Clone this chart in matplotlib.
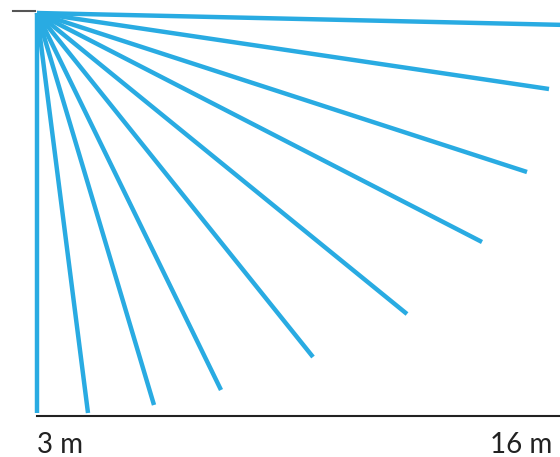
import matplotlib.pyplot as plt

# 探测射线的端点（原点在左上角）
origin_x = 0
origin_y = 400
end_x = [0, 51, 117, 184, 276, 370, 445, 490, 512, 530]
end_y = [0, 0, 8, 23, 56, 99, 171, 241, 324, 388]
left_label = '3 m'
right_label = '16 m'

fig = plt.figure(figsize=(5.6, 4.57), dpi=100)
ax = fig.add_axes([0, 0, 1, 1])
ax.set_xlim(-37, 523)
ax.set_ylim(-44, 413)
ax.axis('off')

for x, y in zip(end_x, end_y):
    ax.plot([origin_x, x], [origin_y, y], color='#29abe2', lw=3.2,
            solid_capstyle='butt')

# 底部横线和左上角短线
ax.plot([0, 523], [-3, -3], color='#222222', lw=1.5)
ax.plot([-24, -2], [402, 402], color='#555555', lw=1.5)

ax.text(0, -40, left_label, fontsize=20, family='Lato',
        color='#222222', ha='left', va='baseline')
ax.text(515, -40, right_label, fontsize=20, family='Lato',
        color='#222222', ha='right', va='baseline')

plt.savefig('out.png', dpi=100)
